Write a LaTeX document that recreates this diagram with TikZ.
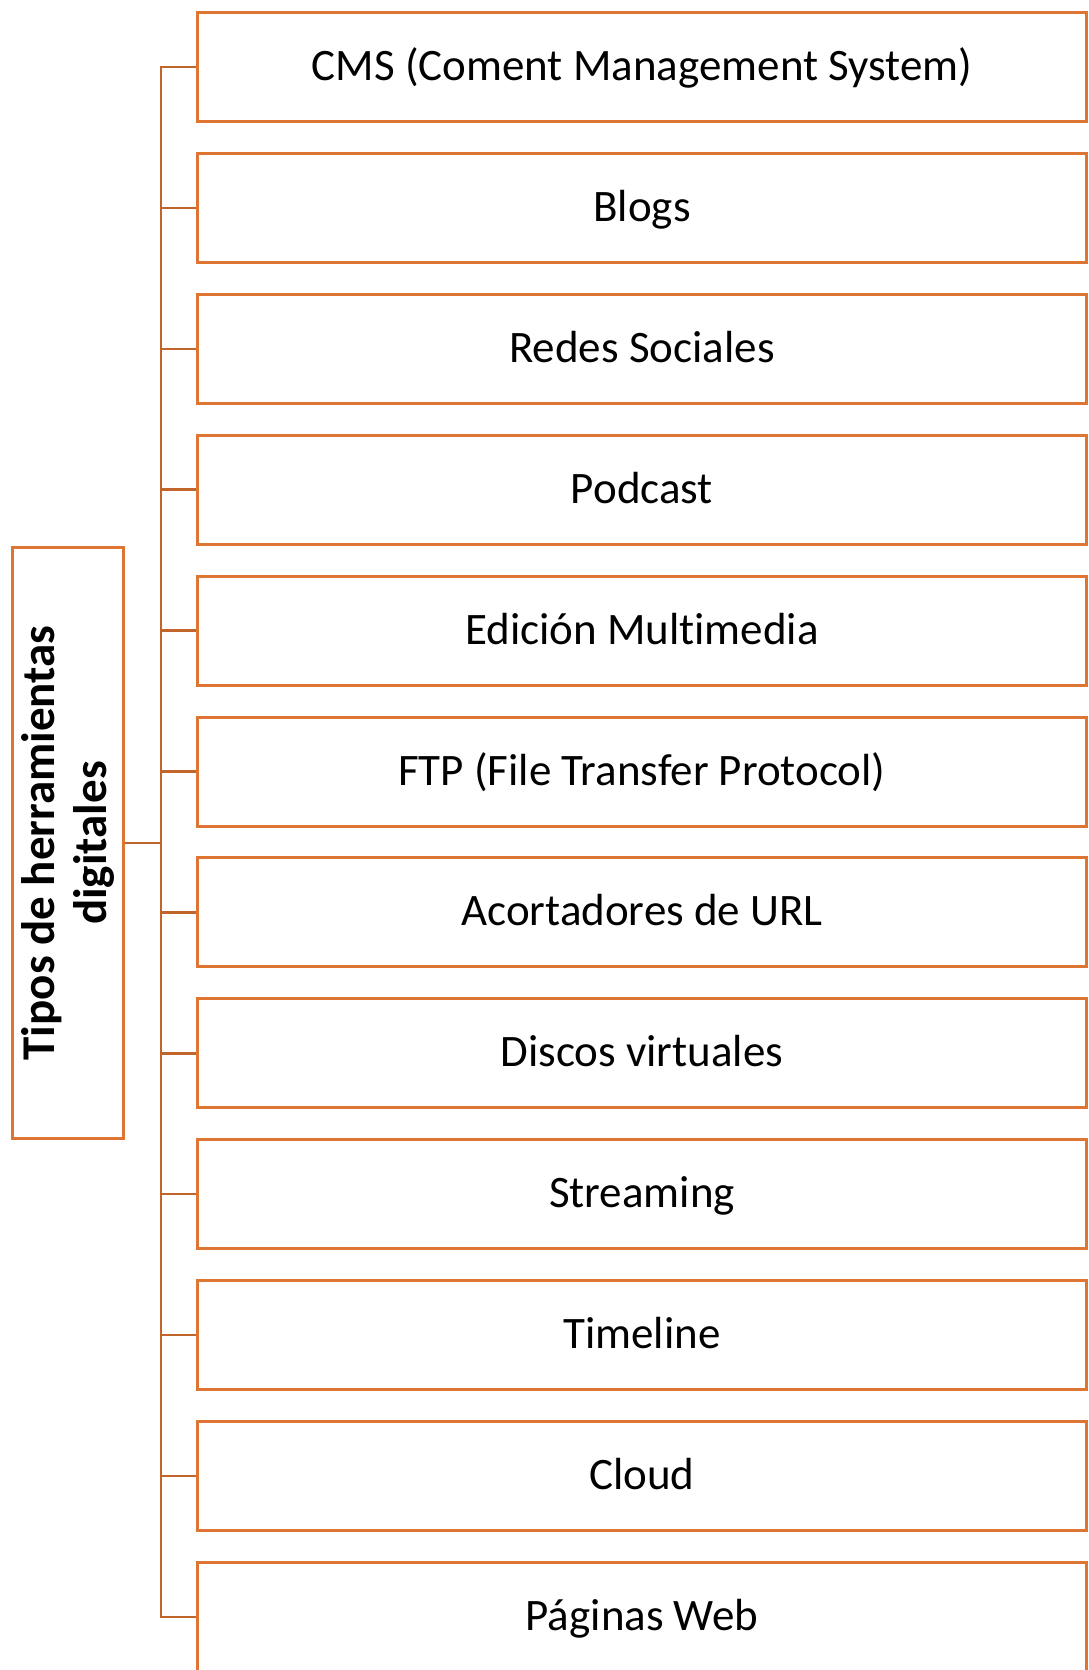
\documentclass[tikz,border=0pt]{standalone}
\usepackage{fontspec}
\setmainfont[Ligatures=NoCommon]{Carlito}

\definecolor{Tangerine}{RGB}{222,117,50}
\definecolor{Rust}{RGB}{193,101,42}

\tikzset{
  toolbox/.style={draw=Tangerine, line width=3pt, minimum width=889pt, minimum height=109pt,
    inner sep=0pt, text height=36pt, text depth=9pt, font=\fontsize{45}{54}\selectfont},
  rootbox/.style={draw=Tangerine, line width=3pt, minimum width=591pt, minimum height=111pt,
    inner sep=0pt, rotate=90, align=center, font=\bfseries\fontsize{47}{52}\selectfont},
  branch/.style={draw=Rust, line width=2.5pt}
}

\newcommand{\drawtool}[3]{% Parameters: name, row, label
  \node[toolbox] (#1) at (642,67+140.9*#2) {#3};
  \draw[branch] (#1.west) -| (spine);
}

\begin{document}
\begin{tikzpicture}[x=1pt,y=-1pt]
    \useasboundingbox (0,0) rectangle (1089,1670);
    \node[rootbox] (root) at (68,843) {Tipos de herramientas\\digitales};
    \coordinate (spine) at (161,843);
    \draw[branch] (root.south) -- (spine);
    \drawtool{cms}{0}{CMS (Coment Management System)}
    \drawtool{blogs}{1}{Blogs}
    \drawtool{redes}{2}{Redes Sociales}
    \drawtool{podcast}{3}{Podcast}
    \drawtool{edicion}{4}{Edición Multimedia}
    \drawtool{ftp}{5}{FTP (File Transfer Protocol)}
    \drawtool{url}{6}{Acortadores de URL}
    \drawtool{discos}{7}{Discos virtuales}
    \drawtool{streaming}{8}{Streaming}
    \drawtool{timeline}{9}{Timeline}
    \drawtool{cloud}{10}{Cloud}
    \drawtool{paginas}{11}{Páginas Web}
  \end{tikzpicture}
\end{document}
